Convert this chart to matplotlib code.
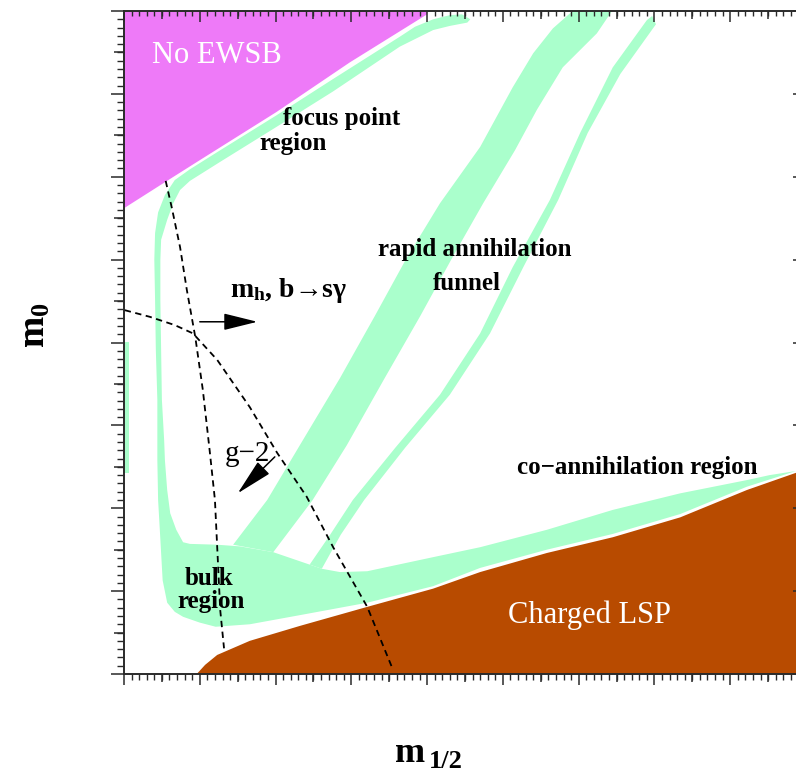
import matplotlib
matplotlib.use("Agg")
import matplotlib.pyplot as plt
from matplotlib.ticker import MultipleLocator, FixedLocator

plt.rcParams['font.family'] = ['Liberation Serif', 'DejaVu Serif']
plt.rcParams['mathtext.fontset'] = 'custom'
plt.rcParams['mathtext.rm'] = 'Liberation Serif'
plt.rcParams['mathtext.bf'] = 'Liberation Serif:bold'
plt.rcParams['mathtext.it'] = 'Liberation Serif:italic'

# ---------------- data (m_1/2, m_0 in arbitrary GeV-like units) ----------------
XMAX, YMAX = 900, 800

# No EWSB region
ewsb_x = [0, 400, 400, 298, 201, 100, 55, 0]
ewsb_y = [800, 800, 796, 738, 678, 620, 594, 562]

# Charged LSP region
lsp_x = [96, 107, 123, 166, 232, 321, 408, 470, 558, 645, 734, 822, 900, 900]
lsp_y = [0, 11, 23, 40, 58, 81, 103, 123, 146, 165, 189, 222, 247, 0]

# focus point + bulk + co-annihilation band (one outline)
band_x = [457, 446, 430, 408, 384, 364, 276, 201, 127, 87, 67, 54, 45, 41, 40, 41, 42, 44, 44, 45,
          48, 51, 57, 67, 78, 100, 121, 166, 232, 321, 408, 470, 558, 645, 734, 822, 887,
          852, 822, 734, 645, 558, 470, 408, 321, 285, 261, 245, 197, 153, 123, 87, 78, 69, 61,
          57, 54, 53, 50, 49, 48, 48, 49, 57, 65, 74, 87, 127, 201, 276, 364, 408, 430, 453]
band_y = [790, 796, 795, 790, 781, 769, 718, 674, 632, 609, 596, 578, 557, 532, 500, 451, 391, 331, 258, 210,
          162, 113, 86, 75, 69, 62, 57, 60, 71, 86, 106, 128, 150, 169, 193, 226, 245,
          240, 234, 218, 198, 174, 153, 141, 124, 123, 127, 132, 147, 154, 156, 157, 159, 174, 194,
          222, 258, 282, 331, 391, 451, 500, 524, 548, 568, 584, 595, 618, 660, 703, 757, 777, 782, 786]

# rapid annihilation funnel, wide branch
funnel_x = [144, 189, 232, 285, 331, 373, 417, 470, 513, 540, 566, 592,
            644, 624, 579, 545, 516, 474, 433, 391, 344, 294, 249, 197]
funnel_y = [156, 210, 276, 357, 432, 502, 568, 636, 708, 749, 779, 800,
            800, 773, 732, 681, 632, 568, 502, 432, 357, 276, 210, 147]

# rapid annihilation funnel, thin branch
thin_x = [245, 272, 302, 358, 417, 470, 513, 562, 602, 645, 690, 697,
          702, 655, 612, 573, 527, 483, 430, 371, 317, 286, 261]
thin_y = [132, 168, 210, 273, 337, 411, 491, 572, 653, 732, 789, 794,
          784, 724, 653, 572, 491, 411, 337, 273, 210, 168, 127]

# small strip at the left edge
strip_x = [0, 7, 7, 0]
strip_y = [243, 243, 401, 401]

# constraint curves
mh_x = [55, 63, 74, 83, 94, 104, 113, 120, 123, 127, 132]
mh_y = [595, 563, 515, 463, 407, 343, 270, 210, 153, 77, 31]
g2_x = [1, 34, 67, 91, 123, 166, 202, 241, 276, 321, 355]
g2_y = [439, 431, 421, 411, 379, 322, 267, 214, 153, 81, 5]

# arrows (start, end)
arrow_mh = ((100, 425), (176, 425))
arrow_g2 = ((199, 262), (150, 218))

MAGENTA = '#EE7AF8'
GREEN = '#AAFFCC'
BROWN = '#B84B00'
SPINE = '#2a2a2a'

# ---------------- figure ----------------
fig = plt.figure(figsize=(7.96, 7.76), dpi=100)
pos = [124 / 796, 102 / 776, 682 / 796, 663 / 776]
ax = fig.add_axes(pos)
ax.set_xlim(0, XMAX)
ax.set_ylim(0, YMAX)

ax.fill(ewsb_x, ewsb_y, color=MAGENTA, lw=0, zorder=1)
ax.fill(lsp_x, lsp_y, color=BROWN, lw=0, zorder=1)
ax.fill(band_x, band_y, color=GREEN, lw=0, zorder=2)
ax.fill(funnel_x, funnel_y, color=GREEN, lw=0, zorder=2)
ax.fill(thin_x, thin_y, color=GREEN, lw=0, zorder=2)
ax.fill(strip_x, strip_y, color=GREEN, lw=0, zorder=2)

ax.plot(mh_x, mh_y, color='black', lw=1.3, dashes=(3.5, 2.5), zorder=3)
ax.plot(g2_x, g2_y, color='black', lw=1.3, dashes=(3.5, 2.5), zorder=3)

ax.annotate('', xy=arrow_mh[1], xytext=arrow_mh[0],
            arrowprops=dict(arrowstyle='-|>,head_length=1.05,head_width=0.26',
                            mutation_scale=20, color='black', lw=1.1,
                            shrinkA=0, shrinkB=0), zorder=4)
ax.annotate('', xy=arrow_g2[1], xytext=arrow_g2[0],
            arrowprops=dict(arrowstyle='-|>,head_length=1.15,head_width=0.26',
                            mutation_scale=20, color='black', lw=1.1,
                            shrinkA=0, shrinkB=0), zorder=4)

# region labels
ax.text(37, 737, 'No EWSB', color='white', fontsize=22, va='baseline', zorder=5)
ax.text(507, 62, 'Charged LSP', color='white', fontsize=22, va='baseline', zorder=5)
bold = dict(color='black', fontsize=18, fontweight='bold', va='baseline', zorder=5)
ax.text(210, 662, 'focus point', **bold)
ax.text(179, 632, 'region', **bold)
ax.text(335, 504, 'rapid annihilation', **bold)
ax.text(407, 463, 'funnel', **bold)
ax.text(519, 241, 'co\u2212annihilation region', **bold)
ax.text(80, 107, 'bulk', **bold)
ax.text(70, 80, 'region', **bold)
ax.text(140, 455, r'$\mathbf{m}_\mathbf{h}$' + ', b\u2192s\u03b3',
        color='black', fontsize=20, fontweight='bold', va='baseline', zorder=5)
ax.text(133, 257, 'g\u22122', color='black', fontsize=21, va='baseline', zorder=5)

# axis labels
fig.text(35 / 796, 1 - 325 / 776, r'$\mathbf{m}_\mathbf{0}$', rotation=90,
         fontsize=27, ha='center', va='center')
fig.text(395 / 796, 1 - 762 / 776, 'm', fontsize=26, fontweight='bold', va='baseline')
fig.text(429 / 796, 1 - 768 / 776, '1/2', fontsize=19, fontweight='bold', va='baseline')

# ---------------- ticks ----------------
for sp in ax.spines.values():
    sp.set_color(SPINE)
    sp.set_linewidth(1.4)

mid_x = [50 + 100 * k for k in range(9)]
mid_y = [50 + 100 * k for k in range(8)]


def setup(a, xloc_major, yloc_major, minor, direction, xlen, ylen, side):
    a.set_xlim(0, XMAX)
    a.set_ylim(0, YMAX)
    a.xaxis.set_major_locator(xloc_major)
    a.yaxis.set_major_locator(yloc_major)
    if minor:
        a.xaxis.set_minor_locator(MultipleLocator(10))
        a.yaxis.set_minor_locator(MultipleLocator(10))
    low = side == 'low'
    a.tick_params(axis='x', which='major', direction=direction, length=xlen[0], width=1.1,
                  color=SPINE, bottom=low, top=not low, labelbottom=False, labeltop=False)
    a.tick_params(axis='y', which='major', direction=direction, length=ylen[0], width=1.1,
                  color=SPINE, left=low, right=not low, labelleft=False, labelright=False)
    if minor:
        a.tick_params(axis='x', which='minor', direction=direction, length=xlen[1], width=1.0,
                      color=SPINE, bottom=low, top=not low)
        a.tick_params(axis='y', which='minor', direction=direction, length=ylen[1], width=1.0,
                      color=SPINE, left=low, right=not low)


setup(ax, MultipleLocator(100), MultipleLocator(100), True, 'out', (8.0, 4.3), (9.4, 5.0), 'low')

ax_top = fig.add_axes(pos, frameon=False)
ax_top.patch.set_visible(False)
setup(ax_top, MultipleLocator(100), MultipleLocator(100), True, 'in', (7.6, 3.8), (9.4, 5.0), 'high')

ax_mid_lo = fig.add_axes(pos, frameon=False)
ax_mid_lo.patch.set_visible(False)
setup(ax_mid_lo, FixedLocator(mid_x), FixedLocator(mid_y), False, 'out', (5.8, 0), (7.2, 0), 'low')

ax_mid_hi = fig.add_axes(pos, frameon=False)
ax_mid_hi.patch.set_visible(False)
setup(ax_mid_hi, FixedLocator(mid_x), FixedLocator(mid_y), False, 'in', (5.8, 0), (7.2, 0), 'high')

fig.savefig('out.png', dpi=100)
